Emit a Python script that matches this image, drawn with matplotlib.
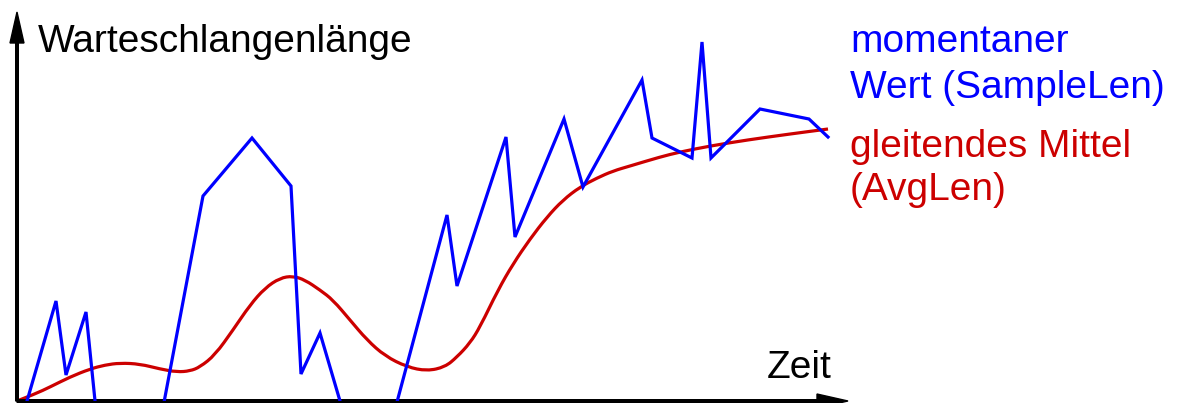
#!/usr/bin/env python3
"""Warteschlangenlaenge: momentaner Wert vs. gleitendes Mittel."""

import matplotlib

matplotlib.use("Agg")
import matplotlib.pyplot as plt
from matplotlib.patches import PathPatch, Rectangle
from matplotlib.path import Path

plt.rcParams["font.family"] = ["Liberation Sans", "DejaVu Sans"]

# momentaner Wert (SampleLen)
sample_t = [10, 39, 49, 69, 83, 138, 186, 235, 274, 284, 303, 353, 430, 440, 489,
            498, 547, 566, 625, 635, 675, 685, 694, 743, 792, 811]
sample_len = [0, 100, 26, 89, -49, -49, 205, 263, 215, 27, 68, -102, 186, 115, 264,
              164, 282, 214, 321, 263, 243, 359, 243, 292, 282, 264]

# gleitendes Mittel (AvgLen)
avg_t = [0, 18, 33, 53, 73, 88, 103, 123, 143, 160, 173, 183, 198, 216, 233, 248,
         263, 276, 288, 303, 316, 333, 350, 368, 390, 410, 428, 440, 453, 463, 481,
         496, 513, 530, 546, 563, 580, 596, 613, 643, 663, 693, 730, 773, 811]
avg_len = [0, 7, 14, 24, 32, 36, 38, 37, 32, 29, 30, 34, 46, 71, 96, 113,
           123, 125, 121, 111, 101, 81, 61, 45, 34, 30, 34, 44, 58, 74, 111,
           137, 162, 184, 201, 214, 223, 230, 235, 244, 249, 255, 261, 267, 272]

BLUE = "#0000ff"
RED = "#cc0000"
FS = 28


def smooth_path(xs, ys):
    # quadratische Bezier-Kurve mit den Stuetzpunkten als Kontrollpunkten
    pts = list(zip(xs, ys))
    verts = [pts[0]]
    codes = [Path.MOVETO]
    for i in range(1, len(pts) - 1):
        mid = ((pts[i][0] + pts[i + 1][0]) / 2, (pts[i][1] + pts[i + 1][1]) / 2)
        verts += [pts[i], mid]
        codes += [Path.CURVE3, Path.CURVE3]
    verts.append(pts[-1])
    codes.append(Path.LINETO)
    return Path(verts, codes)


def main():
    fig = plt.figure(figsize=(11.78, 4.03), dpi=100)
    ax = fig.add_axes([0, 0, 1, 1])
    ax.set_xlim(-17, 1161)
    ax.set_ylim(-2, 401)
    ax.axis("off")

    clip = Rectangle((0, 0), 900, 420, transform=ax.transData)
    (blue,) = ax.plot(sample_t, sample_len, color=BLUE, lw=2.3, solid_joinstyle="miter")
    blue.set_clip_path(clip)
    ax.add_patch(PathPatch(smooth_path(avg_t, avg_len), facecolor="none",
                           edgecolor=RED, lw=2.3))

    # Achsen mit Pfeilen
    ax.arrow(0, 0, 0, 389, width=2.6, head_width=14, head_length=31,
             length_includes_head=True, color="black")
    ax.arrow(0, 0, 831, 0, width=2.6, head_width=14, head_length=31,
             length_includes_head=True, color="black")

    ax.text(21, 349, "Warteschlangenlänge", fontsize=FS, va="baseline", ha="left")
    ax.text(815, 23, "Zeit", fontsize=FS, va="baseline", ha="right")

    ax.text(833, 349, "momentaner", fontsize=FS, color=BLUE, va="baseline")
    ax.text(833, 303, "Wert (SampleLen)", fontsize=FS, color=BLUE, va="baseline")
    ax.text(833, 244, "gleitendes Mittel", fontsize=FS, color=RED, va="baseline")
    ax.text(833, 201, "(AvgLen)", fontsize=FS, color=RED, va="baseline")

    fig.savefig("out.png", dpi=100)
    plt.close(fig)


if __name__ == "__main__":
    main()
